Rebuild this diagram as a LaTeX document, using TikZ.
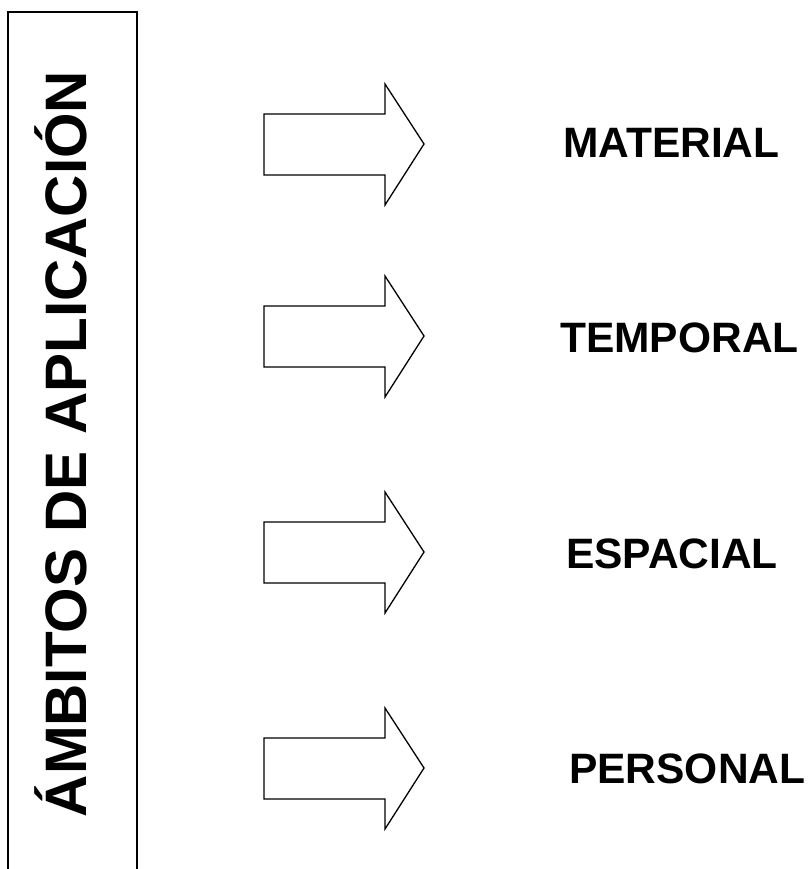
\documentclass[tikz,border=0pt]{standalone}
\usepackage{fontspec}
\setmainfont{Liberation Sans}
\begin{document}
\begin{tikzpicture}[x=1pt,y=-1pt,
  outline/.style={draw=black,line width=1.3pt,line join=miter},
  label/.style={font=\fontsize{42.5}{48}\selectfont\bfseries,anchor=base west,inner sep=0pt},
  bigarrow/.style={outline,fill=white}]
\useasboundingbox (0,0) rectangle (807,869);
% left open box
\draw[outline] (8,875) -- (8,12) -- (137,12) -- (137,875);
\node[rotate=90,anchor=base,inner sep=0pt,font=\fontsize{58.5}{66}\selectfont\bfseries] (title) at (86,444) {ÁMBITOS DE APLICACIÓN};
% arrows
\foreach \cy/\nm in {144/a1,336/a2,552/a3,768/a4}{
  \draw[bigarrow] (264,\cy-30) -- (385,\cy-30) -- (385,\cy-60) -- (424,\cy) -- (385,\cy+61) -- (385,\cy+31) -- (264,\cy+31) -- cycle;
  \coordinate (\nm) at (424,\cy);
}
\node[label] (material) at (563,158) {MATERIAL};
\node[label] (temporal) at (560,352) {TEMPORAL};
\node[label] (espacial) at (566,568) {ESPACIAL};
\node[label] (personal) at (569,783) {PERSONAL};
\end{tikzpicture}
\end{document}
